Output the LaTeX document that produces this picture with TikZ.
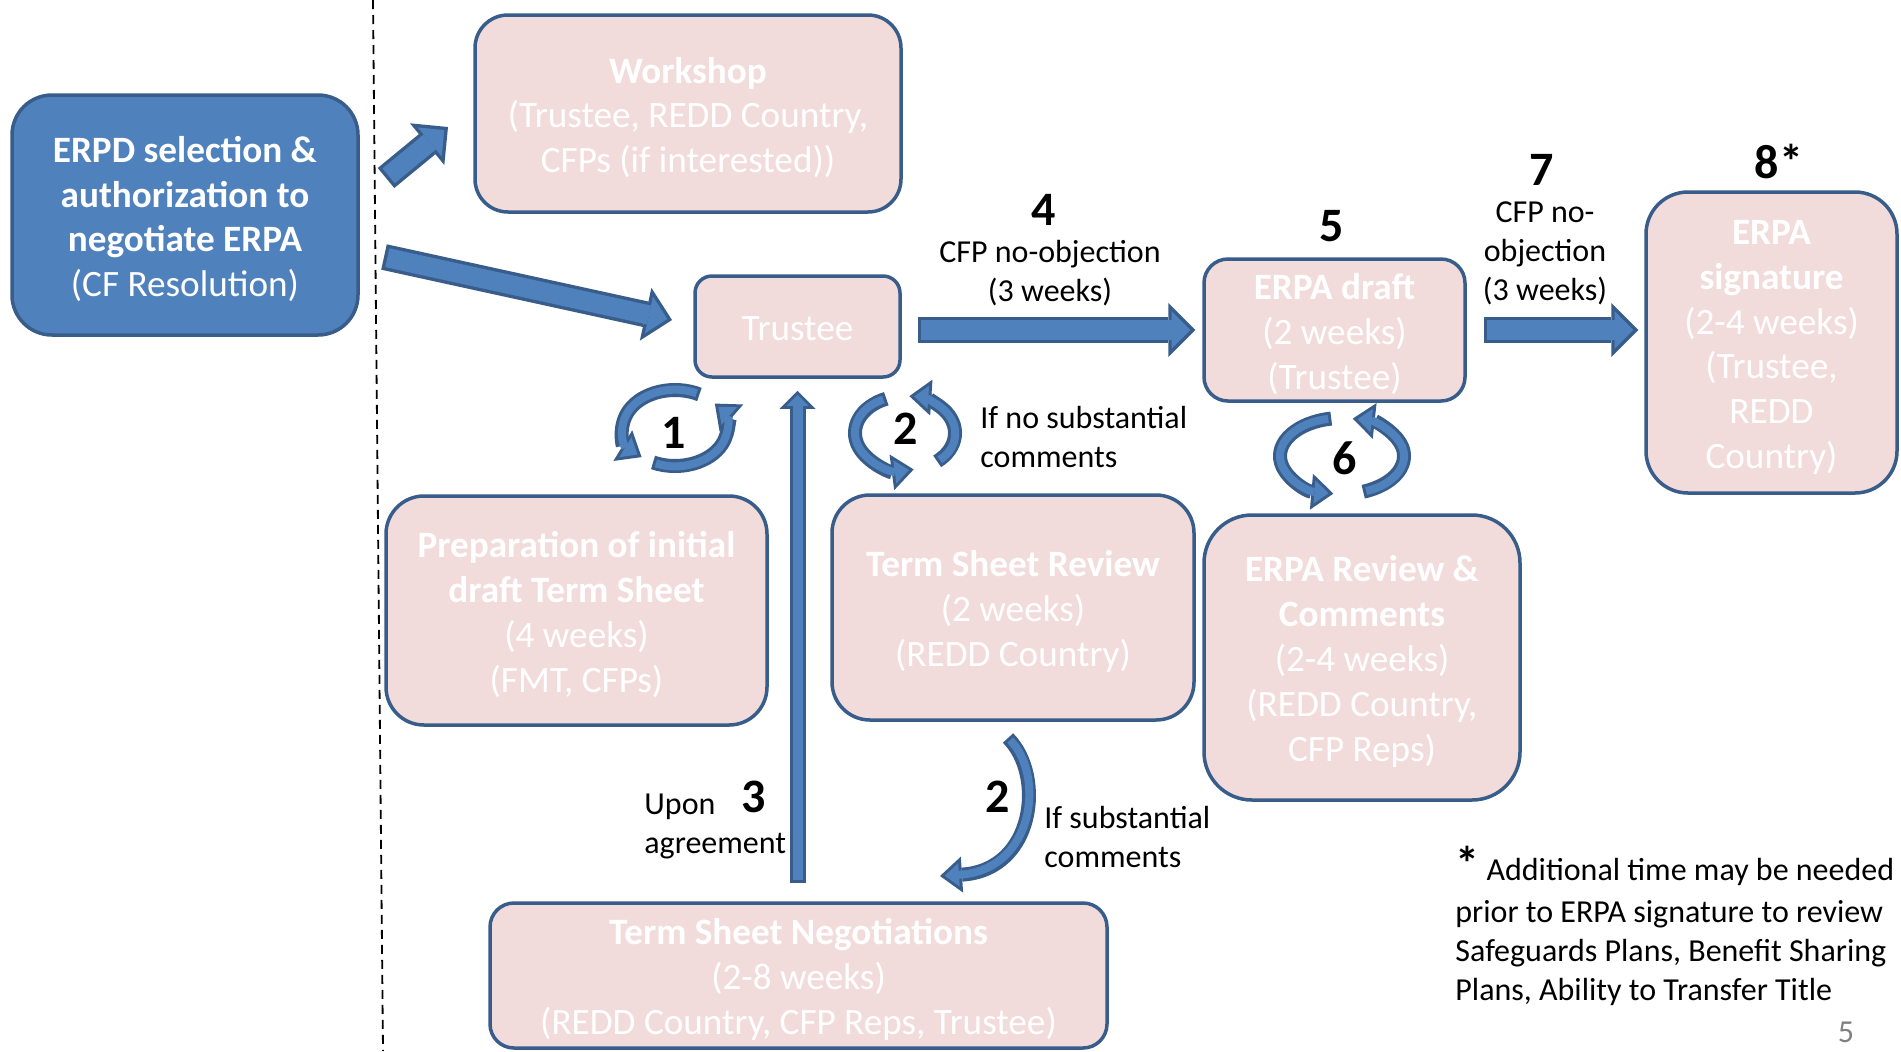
\documentclass[tikz,border=0pt]{standalone}
\usepackage{fontspec}
\setmainfont{Carlito}
\usepackage{xcolor}
\usepackage{tikz}
\usetikzlibrary{arrows.meta}
\usetikzlibrary{calc}

\definecolor{boxblue}{HTML}{4F81BD}
\definecolor{edgeblue}{HTML}{385D8A}
\definecolor{boxpink}{HTML}{F2DCDB}

\newcommand\boxtop{\rule{0pt}{17pt}} % a little more room above the first line

\begin{document}
\begin{tikzpicture}[
		x=0.5pt, y=-0.5pt,
		box/.style={draw=edgeblue, line width=1.75pt, fill=boxpink, text=white, align=center, inner sep=0pt, font=\fontsize{18.6}{22.4}\selectfont},
		num/.style={font=\fontsize{24}{28}\selectfont\bfseries, inner sep=0pt},
		note/.style={font=\fontsize{16}{19.5}\selectfont, inner sep=0pt},
		divider/.style={line width=0.9pt, dash pattern=on 4.5pt off 3pt},
		blk/.style 2 args={draw=edgeblue, line width=13pt, shorten <=#1, shorten >=#2, -{Triangle[length=13.5pt, width=27pt, line width=0pt]}},
		blkin/.style 2 args={draw=boxblue, line width=9.6pt, shorten <=#1+1.7pt, shorten >=#2+2.4pt, -{Triangle[length=9.4pt, width=18.8pt, line width=0pt]}},
		vblk/.style 2 args={draw=edgeblue, line width=8pt, shorten <=#1, shorten >=#2, -{Triangle[length=9pt, width=18pt, line width=0pt]}},
		vblkin/.style 2 args={draw=boxblue, line width=5pt, shorten <=#1+1.5pt, shorten >=#2+2.1pt, -{Triangle[length=5.4pt, width=10.8pt, line width=0pt]}},
		crv/.style={draw=edgeblue, line width=7pt, -{Triangle[length=11pt, width=18pt, line width=0pt]}},
		crvin/.style={draw=boxblue, line width=4pt, shorten <=1.5pt, shorten >=2.4pt, -{Triangle[length=7.1pt, width=11.7pt, line width=0pt]}}
	]
	
	\path[use as bounding box, fill=white] (0,0) rectangle (1901,1051);
	
	% the divider
	\draw[divider] (373,0) -- (383,1051);
	
	% the boxes
	\node[box, fill=boxblue, minimum width=173pt, minimum height=120pt, rounded corners=20pt] (erpd) at (185,215) {\boxtop\textbf{ERPD selection \&}\\ \textbf{authorization to}\\ \textbf{negotiate ERPA}\\ (CF Resolution)};
	\node[box, minimum width=213pt, minimum height=98.5pt, rounded corners=16.5pt] (workshop) at (688,113.5) {\boxtop\textbf{Workshop}\\ (Trustee, REDD Country,\\ CFPs (if interested))};
	\node[box, minimum width=102.5pt, minimum height=50.5pt, rounded corners=8.5pt] (trustee) at (797.5,326.5) {\rule{0pt}{14pt}Trustee};
	\node[box, minimum width=130.5pt, minimum height=71pt, rounded corners=12pt] (draft) at (1334.5,330) {\boxtop\textbf{ERPA draft}\\ (2 weeks)\\ (Trustee)};
	\node[box, minimum width=125.5pt, minimum height=150.5pt, rounded corners=21pt] (sign) at (1771.5,342.5) {\boxtop\textbf{ERPA}\\ \textbf{signature}\\ (2-4 weeks)\\ (Trustee,\\ REDD\\ Country)};
	\node[box, minimum width=190.5pt, minimum height=114.5pt, rounded corners=19pt] (prep) at (576.5,610.5) {\boxtop\textbf{Preparation of initial}\\ \textbf{draft Term Sheet}\\ (4 weeks)\\ (FMT, CFPs)};
	\node[box, minimum width=181pt, minimum height=112.5pt, rounded corners=19pt] (review) at (1013,607.5) {\boxtop\textbf{Term Sheet Review}\\ (2 weeks)\\ (REDD Country)};
	\node[box, minimum width=158pt, minimum height=142.5pt, rounded corners=24pt] (comments) at (1362,657.5) {\boxtop\textbf{ERPA Review \&}\\ \textbf{Comments}\\ (2-4 weeks)\\ (REDD Country,\\ CFP Reps)};
	\node[box, minimum width=308.5pt, minimum height=72.5pt, rounded corners=12pt] (negot) at (798.5,975.5) {\boxtop\textbf{Term Sheet Negotiations}\\ (2-8 weeks)\\ (REDD Country, CFP Reps, Trustee)};
	
	% straight block arrows
	\coordinate (ws0) at (386,178);
	\coordinate (ws1) at (448,127);
	\draw[blk={0pt}{0pt}] (ws0) -- (ws1);
	\draw[blkin={0pt}{0pt}] (ws0) -- (ws1);
	
	\coordinate (lt0) at (384,257);
	\coordinate (lt1) at (672,320);
	\draw[blk={0pt}{0pt}] (lt0) -- (lt1);
	\draw[blkin={0pt}{0pt}] (lt0) -- (lt1);
	
	\draw[blk={8pt}{3.5pt}] (trustee.east |- draft.west) -- (draft.west); % step 4
	\draw[blkin={8pt}{3.5pt}] (trustee.east |- draft.west) -- (draft.west);
	
	\draw[blk={8.5pt}{3pt}] (draft.east) -- (sign.west |- draft.east); % step 7
	\draw[blkin={8.5pt}{3pt}] (draft.east) -- (sign.west |- draft.east);
	
	\draw[vblk={9pt}{6pt}] (trustee.south |- negot.north) -- (trustee.south); % step 3
	\draw[vblkin={9pt}{6pt}] (trustee.south |- negot.north) -- (trustee.south);
	
	% the cycles
	\coordinate (c1) at (675,428);
	\coordinate (c2) at (905,433);
	\coordinate (c6) at (1342,456);
	
	\draw[crv] (c1) ++(-62:52 and 38) arc[start angle=-62, end angle=-230, x radius=52, y radius=38];
	\draw[crvin] (c1) ++(-62:52 and 38) arc[start angle=-62, end angle=-230, x radius=52, y radius=38];
	\draw[crv] (c1) ++(-245:52 and 38) arc[start angle=-245, end angle=-400, x radius=52, y radius=38];
	\draw[crvin] (c1) ++(-245:52 and 38) arc[start angle=-245, end angle=-400, x radius=52, y radius=38];
	
	\draw[crv] (c2) ++(-112:50 and 37) arc[start angle=-112, end angle=-280, x radius=50, y radius=37];
	\draw[crvin] (c2) ++(-112:50 and 37) arc[start angle=-112, end angle=-280, x radius=50, y radius=37];
	\draw[crv] (c2) ++(-310:50 and 37) arc[start angle=-310, end angle=-445, x radius=50, y radius=37];
	\draw[crvin] (c2) ++(-310:50 and 37) arc[start angle=-310, end angle=-445, x radius=50, y radius=37];
	
	\draw[crv] (c6) ++(-100:62 and 38) arc[start angle=-100, end angle=-262, x radius=62, y radius=38];
	\draw[crvin] (c6) ++(-100:62 and 38) arc[start angle=-100, end angle=-262, x radius=62, y radius=38];
	\draw[crv] (c6) ++(-290:62 and 38) arc[start angle=-290, end angle=-440, x radius=62, y radius=38];
	\draw[crvin] (c6) ++(-290:62 and 38) arc[start angle=-290, end angle=-440, x radius=62, y radius=38];
	
	% back to negotiations
	\coordinate (r0) at (1008,738);
	\coordinate (r1) at (940,876);
	\draw[crv] (r0) .. controls (1045,775) and (1035,870) .. (r1);
	\draw[crvin] (r0) .. controls (1045,775) and (1035,870) .. (r1);
	
	% step numbers
	\node[num] (n1) at (674,433) {1};
	\node[num] (n2) at (906,429) {2};
	\node[num] (n3) at (754,797) {3};
	\node[num] (n2b) at (998,797) {2};
	\node[num] (n4) at (1044,210) {4};
	\node[num] (n5) at (1332,226) {5};
	\node[num] (n6) at (1345,458) {6};
	\node[num] (n7) at (1542,170) {7};
	\node[num] (n8) at (1779,161) {8*};
	
	% labels
	\node[note, align=left, anchor=west] (nosub) at (980,437) {If no substantial\\ comments};
	\node[note, align=left, anchor=west] (upon) at (644,826) {Upon\\ agreement};
	\node[note, align=left, anchor=west] (sub) at (1044,837) {If substantial\\ comments};
	\node[note, align=center] (obj4) at (1050,273) {CFP no-objection\\ (3 weeks)};
	\node[note, align=center] (obj7) at (1545,253) {CFP no-\\ objection\\ (3 weeks)};
	
	% footnote
	\node[note, align=left, anchor=north west] (foot) at (1455,846) {{\fontsize{24}{20}\selectfont\bfseries *} Additional time may be needed\\[1.5pt] prior to ERPA signature to review\\ Safeguards Plans, Benefit Sharing\\ Plans, Ability to Transfer Title};
	
	\node[inner sep=0pt, text=gray, font=\fontsize{16}{19}\selectfont] (page) at (1846,1032) {5};
	
\end{tikzpicture}
\end{document}
